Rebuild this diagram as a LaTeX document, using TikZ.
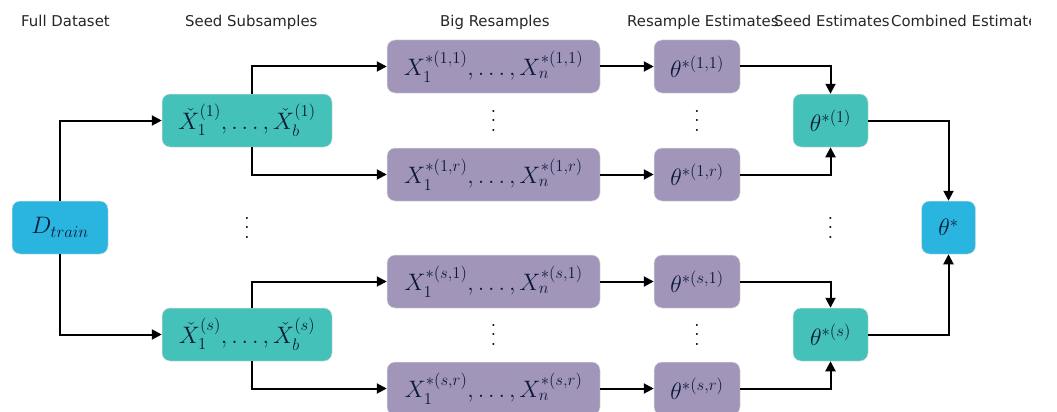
\RequirePackage{fix-cm}
\documentclass[tikz,border=0pt]{standalone}
\usepackage{fontspec}
\usepackage{amsmath}
\usetikzlibrary{arrows.meta,calc}
\newfontfamily\hdrfont{DejaVu Sans}
\definecolor{cblue}{HTML}{29B5E0}
\definecolor{cteal}{HTML}{44C1B9}
\definecolor{cpurple}{HTML}{A195BA}
\definecolor{ctext}{HTML}{0B1A38}
\newcommand\myvdots{\vbox{\baselineskip=9.5pt\lineskiplimit=0pt\hbox{.}\hbox{.}\hbox{.}}}
\begin{document}
\begin{tikzpicture}[x=1pt,y=-1pt,
  box/.style={rounded corners=8pt, draw=black!12, line width=0.5pt, minimum height=53pt,
    inner sep=0pt, text=ctext, font=\fontsize{23.8}{28}\selectfont},
  bluebox/.style={box, fill=cblue},
  tealbox/.style={box, fill=cteal},
  purplebox/.style={box, fill=cpurple},
  hdr/.style={font=\hdrfont\fontsize{14.9}{17}\selectfont, text=black!85, inner sep=0pt, anchor=base west},
  vd/.style={font=\fontsize{24.88}{28}\selectfont, inner sep=0pt},
  conn/.style={line width=2pt, -{Triangle[length=10pt,width=10pt]}}
]
\useasboundingbox (0,0) rectangle (1057,412);
\clip (0,0) rectangle (1057,412);

% headers
\begin{scope}
\clip (0,0) rectangle (1030,412);
\node[hdr] (h1) at (21,27) {Full Dataset};
\node[hdr] (h2) at (185,27) {Seed Subsamples};
\node[hdr] (h3) at (440,27) {Big Resamples};
\node[hdr] (h4) at (627,27) {Resample Estimates};
\node[hdr] (h5) at (774,27) {Seed Estimates};
\node[hdr] (h6) at (891,27) {Combined Estimate};
\end{scope}

% nodes
\node[bluebox, minimum width=96pt] (d) at (60,227.5) {$D_{train}$};
\node[tealbox, minimum width=170pt] (s1) at (247,120.5) {$\check{X}_1^{(1)},\ldots,\check{X}_b^{(1)}$};
\node[tealbox, minimum width=170pt] (ss) at (247,334.5) {$\check{X}_1^{(s)},\ldots,\check{X}_b^{(s)}$};

\node[purplebox, minimum width=213pt] (b11) at (493.5,66.5) {$X_1^{*(1,1)},\ldots,X_n^{*(1,1)}$};
\node[purplebox, minimum width=213pt] (b1r) at (493.5,174.5) {$X_1^{*(1,r)},\ldots,X_n^{*(1,r)}$};
\node[purplebox, minimum width=213pt] (bs1) at (493.5,281.5) {$X_1^{*(s,1)},\ldots,X_n^{*(s,1)}$};
\node[purplebox, minimum width=213pt] (bsr) at (493.5,388.5) {$X_1^{*(s,r)},\ldots,X_n^{*(s,r)}$};

\node[purplebox, minimum width=86pt] (e11) at (697,66.5) {$\theta^{*(1,1)}$};
\node[purplebox, minimum width=86pt] (e1r) at (697,174.5) {$\theta^{*(1,r)}$};
\node[purplebox, minimum width=86pt] (es1) at (697,281.5) {$\theta^{*(s,1)}$};
\node[purplebox, minimum width=86pt] (esr) at (697,388.5) {$\theta^{*(s,r)}$};

\node[tealbox, minimum width=75pt] (t1) at (830.5,120.5) {$\theta^{*(1)}$};
\node[tealbox, minimum width=75pt] (ts) at (830.5,334.5) {$\theta^{*(s)}$};

\node[bluebox, minimum width=54pt] (t) at (948.5,227.5) {$\theta^{*}$};

% vertical dots
\node[vd] (v1) at (247,227.5) {\myvdots};
\node[vd] (v2) at (493.5,120.5) {\myvdots};
\node[vd] (v3) at (493.5,334.5) {\myvdots};
\node[vd] (v4) at (697,120.5) {\myvdots};
\node[vd] (v5) at (697,334.5) {\myvdots};
\node[vd] (v6) at (830.5,227.5) {\myvdots};

% connectors
\draw[conn] (d.north) |- (s1.west);
\draw[conn] (d.south) |- (ss.west);
\draw[conn] ([xshift=5pt]s1.north) |- (b11.west);
\draw[conn] ([xshift=5pt]s1.south) |- (b1r.west);
\draw[conn] ([xshift=5pt]ss.north) |- (bs1.west);
\draw[conn] ([xshift=5pt]ss.south) |- (bsr.west);
\draw[conn] (b11.east) -- (e11.west);
\draw[conn] (b1r.east) -- (e1r.west);
\draw[conn] (bs1.east) -- (es1.west);
\draw[conn] (bsr.east) -- (esr.west);
\draw[conn] (e11.east) -| (t1.north);
\draw[conn] (e1r.east) -| (t1.south);
\draw[conn] (es1.east) -| (ts.north);
\draw[conn] (esr.east) -| (ts.south);
\draw[conn] (t1.east) -| (t.north);
\draw[conn] (ts.east) -| (t.south);
\end{tikzpicture}
\end{document}
